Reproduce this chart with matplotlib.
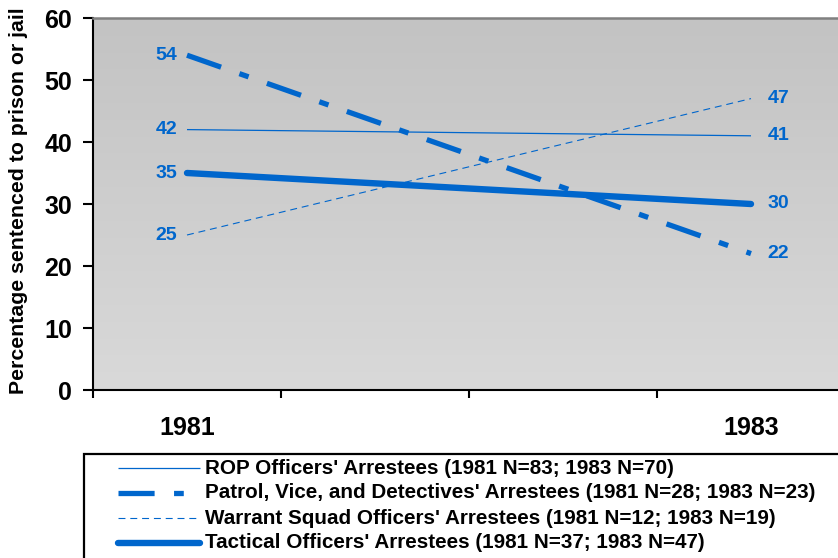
import numpy as np
import matplotlib
matplotlib.use("Agg")
import matplotlib.pyplot as plt
from matplotlib.lines import Line2D
from matplotlib.patches import Rectangle

plt.rcParams['font.family'] = ['Liberation Sans', 'DejaVu Sans']
plt.rcParams['font.weight'] = 'bold'
plt.rcParams['lines.scale_dashes'] = False

years = ["1981", "1983"]
series_names = [
    "ROP Officers' Arrestees (1981 N=83; 1983 N=70)",
    "Patrol, Vice, and Detectives' Arrestees (1981 N=28; 1983 N=23)",
    "Warrant Squad Officers' Arrestees (1981 N=12; 1983 N=19)",
    "Tactical Officers' Arrestees (1981 N=37; 1983 N=47)",
]
rop = [42, 41]
patrol = [54, 22]
warrant = [25, 47]
tactical = [35, 30]
values = [rop, patrol, warrant, tactical]

blue = '#0066CC'
styles = [
    dict(lw=0.9, ls='-', solid_capstyle='butt'),
    dict(lw=3.8, ls=(0, (26, 14, 7, 14)), dash_capstyle='butt'),
    dict(lw=0.8, ls=(0, (5, 3.5)), dash_capstyle='butt'),
    dict(lw=4.6, ls='-', solid_capstyle='round'),
]

W, H = 838, 558
fig = plt.figure(figsize=(W / 100, H / 100), dpi=100)
ax = fig.add_axes([93 / W, 1 - 390 / H, 752 / W, 372 / H])

xpos = [0.5, 3.5]
ax.set_xlim(0, 4)
ax.set_ylim(0, 60)

# gradient background
grad = np.linspace(0, 1, 256).reshape(-1, 1)
ax.imshow(grad, extent=(0, 4, 0, 60), aspect='auto',
          cmap=matplotlib.colors.LinearSegmentedColormap.from_list('g', ['#d9d9d9', '#c3c3c3']),
          origin='lower', zorder=0)

for vals, st in zip(values, styles):
    ax.plot(xpos, vals, color=blue, zorder=3, **st)
    ax.annotate(f"{vals[0]}", (xpos[0], vals[0]), xytext=(-7, 0), textcoords='offset points',
                ha='right', va='center', color=blue, fontsize=14, fontweight='bold')
    ax.annotate(f"{vals[1]}", (xpos[1], vals[1]), xytext=(12, 0), textcoords='offset points',
                ha='left', va='center', color=blue, fontsize=14, fontweight='bold')

ax.set_yticks(range(0, 61, 10))
ax.tick_params(axis='y', direction='out', length=7, width=1.5, pad=8, labelsize=18)
ax.set_xticks([0, 1, 2, 3, 4])
ax.set_xticklabels([])
ax.tick_params(axis='x', which='major', direction='out', length=6, width=1.5)
ax.set_xticks(xpos, minor=True)
ax.set_xticklabels(years, minor=True, fontsize=18, fontweight='bold')
ax.tick_params(axis='x', which='minor', length=0, pad=19)
for lab in ax.get_yticklabels():
    lab.set_fontweight('bold')

ax.spines['left'].set_linewidth(1.5)
ax.spines['bottom'].set_linewidth(1.5)
ax.spines['top'].set_color('#808080')
ax.spines['top'].set_linewidth(1.8)
ax.spines['right'].set_visible(False)

fig.text(19 / W, 1 - 201 / H, "Percentage sentenced to prison or jail", rotation=90,
         ha='center', va='center', fontsize=15.3, fontweight='bold')

# legend box
fig.patches.append(Rectangle((84 / W, -0.05), 1.0, (1 - 454 / H) + 0.05, transform=fig.transFigure,
                             fill=False, edgecolor='black', lw=1.6))
rows_y = [468, 493, 518, 543]
for name, st, ry in zip(series_names, styles, rows_y):
    yy = 1 - ry / H
    fig.lines.append(Line2D([118 / W, 200 / W], [yy, yy], transform=fig.transFigure, color=blue, **st))
    fig.text(205 / W, yy, name, ha='left', va='center', fontsize=14.9, fontweight='bold')

fig.savefig("out.png", dpi=100)
